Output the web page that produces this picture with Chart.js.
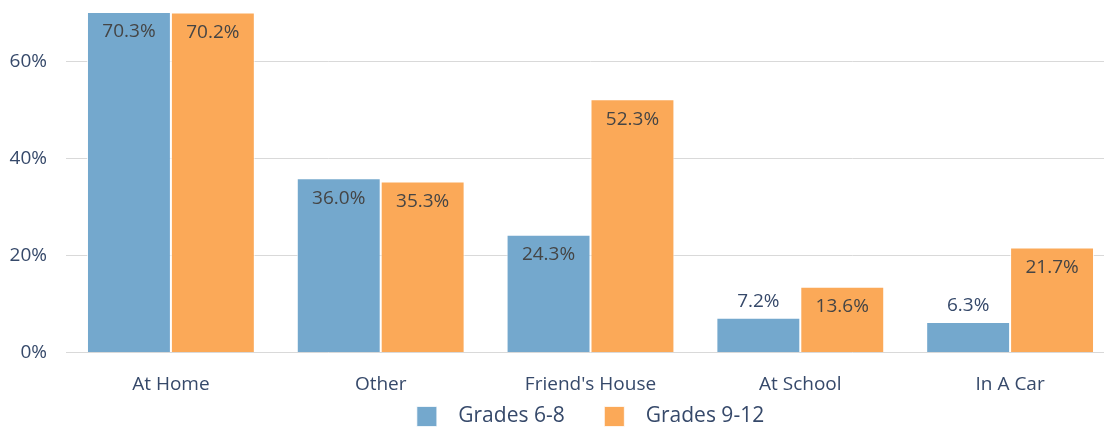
<!DOCTYPE html>
<html>
<head>
<meta charset="utf-8">
<script src="https://cdn.jsdelivr.net/npm/chart.js@4.4.0/dist/chart.umd.min.js"></script>
<style>
  html, body { margin: 0; padding: 0; background: #fff; overflow: hidden; }
  #wrap { width: 1115px; height: 437px; }
</style>
</head>
<body>
<div id="wrap"><canvas id="chart"></canvas></div>
<script>
const categories = ['At Home', 'Other', "Friend's House", 'At School', 'In A Car'];
const grades68 = [70.3, 36.0, 24.3, 7.2, 6.3];
const grades912 = [70.2, 35.3, 52.3, 13.6, 21.7];
const seriesNames = ['Grades 6-8', 'Grades 9-12'];
const yStep = 20;
const yMax = 70.3;

const FONT = "'Open Sans', sans-serif";
const AXIS_COLOR = '#36496a';

// value labels: inside the bar near its top, or above it when the bar is short
const barLabels = {
  id: 'barLabels',
  afterDatasetsDraw(chart) {
    const ctx = chart.ctx;
    ctx.save();
    ctx.font = '19px ' + FONT;
    ctx.textAlign = 'center';
    ctx.textBaseline = 'middle';
    chart.data.datasets.forEach((ds, i) => {
      chart.getDatasetMeta(i).data.forEach((bar, j) => {
        const v = ds.data[j];
        const txt = v.toFixed(1) + '%';
        if (v < 10) {
          ctx.fillStyle = AXIS_COLOR;
          ctx.fillText(txt, bar.x, bar.y - 16);
        } else {
          ctx.fillStyle = '#454545';
          ctx.fillText(txt, bar.x, bar.y + 20);
        }
      });
    });
    ctx.restore();
  }
};

new Chart(document.getElementById('chart'), {
  type: 'bar',
  data: {
    labels: categories,
    datasets: [
      {
        label: seriesNames[0],
        data: grades68,
        backgroundColor: '#74a8cd',
        borderColor: 'rgba(255,255,255,0.75)',
        borderWidth: 1
      },
      {
        label: seriesNames[1],
        data: grades912,
        backgroundColor: '#fba958',
        borderColor: 'rgba(255,255,255,0.75)',
        borderWidth: 1
      }
    ]
  },
  options: {
    responsive: true,
    maintainAspectRatio: false,
    animation: false,
    datasets: { bar: { barPercentage: 1, categoryPercentage: 0.8 } },
    layout: { padding: 0 },
    scales: {
      x: {
        grid: { display: false },
        border: { display: false },
        ticks: { color: AXIS_COLOR, font: { family: FONT, size: 19 }, padding: 13 },
        afterFit: (scale) => { scale.height = 52; }
      },
      y: {
        min: 0,
        max: yMax,
        border: { display: false },
        grid: { color: '#d9d9d9', drawTicks: false },
        ticks: {
          stepSize: yStep,
          includeBounds: false,
          color: AXIS_COLOR,
          font: { family: FONT, size: 19 },
          padding: 19,
          callback: (v) => v + '%'
        },
        afterFit: (scale) => {
          scale.width = 66;
          scale.paddingTop = 12;
          scale.paddingBottom = 0;
        }
      }
    },
    plugins: {
      tooltip: { enabled: false },
      legend: {
        position: 'bottom',
        fullSize: false,
        labels: {
          color: AXIS_COLOR,
          font: { family: FONT, size: 21 },
          boxWidth: 20,
          boxHeight: 20,
          padding: 1.5,
          generateLabels: (chart) => {
            const items = Chart.defaults.plugins.legend.labels.generateLabels(chart);
            items.forEach((it, i) => {
              it.text = '  ' + it.text + (i < items.length - 1 ? '       ' : '');
              it.lineWidth = 1;
            });
            return items;
          }
        }
      }
    }
  },
  plugins: [barLabels]
});
</script>
</body>
</html>
